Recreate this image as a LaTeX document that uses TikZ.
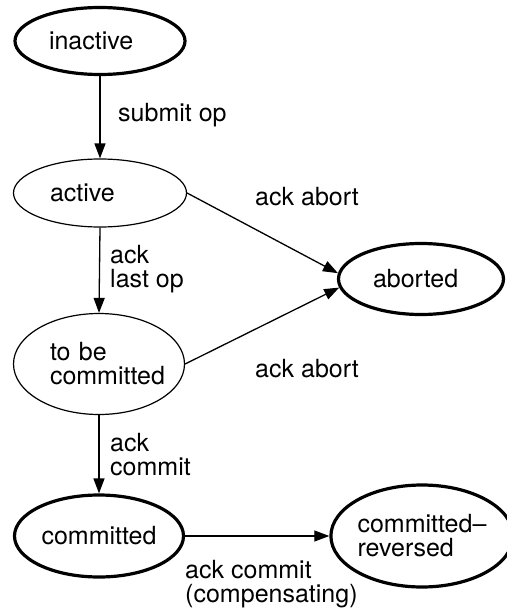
\documentclass[tikz,border=0pt]{standalone}
\usepackage{fontspec}
\setmainfont{TeX Gyre Heros}
\usetikzlibrary{shapes.geometric,arrows.meta}
\tikzset{
	state/.style={ellipse, draw, line width=1.2pt, inner sep=0pt, align=left},
	final/.style={state, line width=3.2pt},
	trans/.style={line width=1.3pt, -{Triangle[length=15pt,width=11pt]}},
	lbl/.style={anchor=base west, inner sep=0pt, align=left}
}

\begin{document}
\begin{tikzpicture}[x=1pt, y=-1pt, font=\fontsize{25pt}{24pt}\selectfont]
			%%%%% START %%%%%
			\useasboundingbox (0, 0) rectangle (506, 613);
			
			\node[final, text width=102pt, minimum width=170pt, minimum height=67pt] (inactive) at (100, 41) {inactive};
			\node[state, text width=100pt, minimum width=173pt, minimum height=68pt] (active) at (100, 193) {active};
			\node[state, text width=98pt, minimum width=171pt, minimum height=101pt] (tobe) at (99, 364) {to be\\committed};
			\node[final, minimum width=169pt, minimum height=82pt] (committed) at (99, 536) {committed};
			
			\node[final, text width=96pt, minimum width=165pt, minimum height=71pt] (aborted) at (421, 279) {aborted};
			\node[final, minimum width=163pt, minimum height=102pt] (reversed) at (422, 536) {committed--\\reversed};
			
			\draw[trans] (inactive.south) -- (active.north);
			\draw[trans] (active.south) -- (tobe.north);
			\draw[trans] (tobe.south) -- (committed.north);
			\draw[trans] (active.east) -- (aborted.176);
			\draw[trans] (tobe.east) -- (aborted.186);
			\draw[trans] (committed.east) -- (reversed.west);
			
			% two-line labels: base is the last line
			\node[lbl] (submit) at (118, 121) {submit op};
			\node[lbl] (abortA) at (255, 205) {ack abort};
			\node[lbl] (lastop) at (110, 287) {ack\\last op};
			\node[lbl] (abortB) at (255, 377) {ack abort};
			\node[lbl] (commit) at (110, 475) {ack\\commit};
			\node[lbl] (compens) at (185, 602) {ack commit\\(compensating)};
			
			%%%%% END %%%%%
		\end{tikzpicture}
\end{document}
